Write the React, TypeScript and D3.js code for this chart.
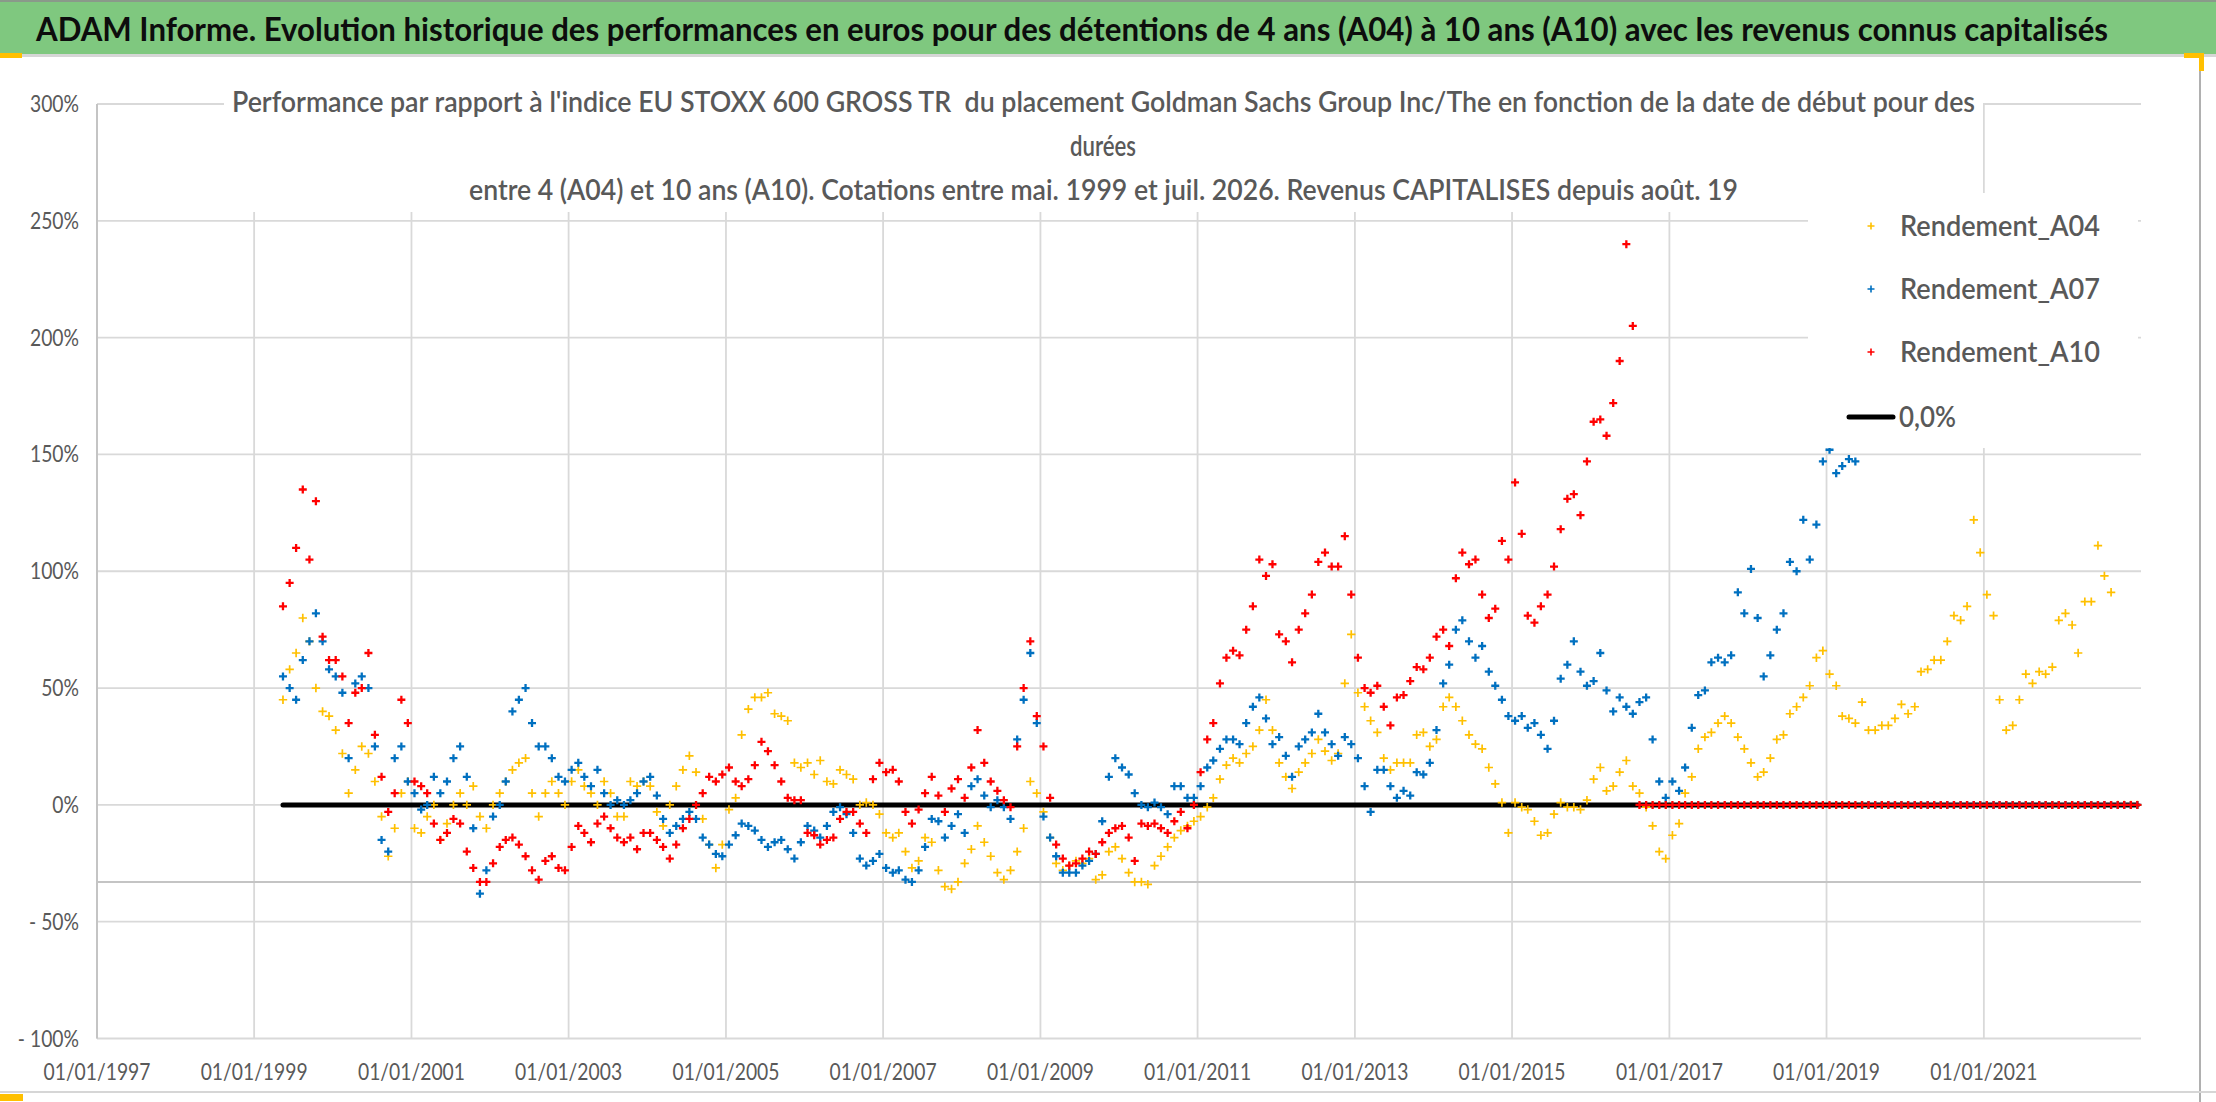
import React from 'react';
import * as d3 from 'd3';

const W = 2216;
const H = 1102;

// Monthly start dates, first one mid-May 1999
const START = new Date(1999, 4, 15);

const A04 = [
  45, 58, 65, 80, 70, 50, 40, 38, 32, 22,
  5, 15, 25, 22, 10, -5, -22, -10, 5, 10,
  -10, -12, -5, 0, -15, -8, 0, 5, 0, 8,
  -5, -10, 0, 5, 10, 15, 18, 20, 5, -5,
  5, 10, 5, 0, 10, 15, 8, 5, 0, 10,
  5, -5, -5, 10, 8, 10, 8, -3, -9, 0,
  8, 15, 21, 14, -6, -17, -27, -17, -2, 3,
  30, 41, 46, 46, 48, 39, 38, 36, 18, 16,
  18, 13, 19, 10, 9, 15, 13, 11, 0, 1,
  0, -4, -12, -14, -12, -20, -27, -24, -14, -16,
  -28, -35, -36, -33, -25, -19, -9, -16, -22, -29,
  -32, -28, -20, -10, 10, 5, -3, -14, -25, -28,
  -26, -24, -25, -23, -32, -30, -20, -18, -23, -29,
  -33, -33, -34, -26, -22, -18, -14, -11, -9, -7,
  -5, -1, 3, 11, 17, 20, 18, 22, 25, 32,
  45, 32, 18, 12, 7, 14, 18, 22, 28, 23,
  19, 22, 52, 73, 48, 42, 36, 31, 20, 15,
  18, 18, 18, 30, 31, 25, 28, 42, 46, 42,
  36, 30, 26, 24, 16, 9, 1, -12, 1, -1,
  -2, -7, -13, -12, -4, 1, -1, -1, -2, 2,
  11, 16, 6, 8, 14, 19, 8, 5, -1, -9,
  -20, -23, -13, -8, 5, 12, 24, 29, 31, 35,
  38, 35, 29, 24, 18, 12, 14, 20, 28, 30,
  39, 42, 46, 51, 63, 66, 56, 51, 38, 37,
  35, 44, 32, 32, 34, 34, 37, 43, 39, 42,
  57, 58, 62, 62, 70, 81, 79, 85, 122, 108,
  90, 81, 45, 32, 34, 45, 56, 52, 57, 56,
  59, 79, 82, 77, 65, 87, 87, 111, 98, 91,
  0, 0, 0, 0,
];

const A07 = [
  55, 50, 45, 62, 70, 82, 70, 58, 55, 48,
  20, 52, 55, 50, 25, -15, -20, 20, 25, 10,
  5, -2, 0, 12, 5, 10, 20, 25, 12, -10,
  -38, -28, -5, 0, 10, 40, 45, 50, 35, 25,
  25, 20, 12, 10, 15, 18, 12, 8, 15, 5,
  0, 2, 0, 2, 5, 10, 12, 4, -6, -12,
  -9, -6, -3, -6, -14, -17, -21, -22, -17, -13,
  -8, -9, -11, -15, -18, -16, -15, -19, -23, -16,
  -9, -11, -14, -9, -3, -1, -4, -12, -23, -26,
  -24, -21, -27, -29, -28, -32, -33, -28, -18, -6,
  -7, -14, -9, -4, -12, 8, 11, 4, -1, 2,
  -1, -6, 28, 45, 65, 35, -5, -14, -22, -29,
  -29, -29, -26, -24, -21, -7, 12, 20, 16, 13,
  5, 0, -1, 1, -1, -4, 8, 8, 3, 3,
  8, 16, 19, 24, 28, 28, 26, 35, 42, 46,
  37, 26, 29, 21, 12, 25, 28, 31, 39, 31,
  26, 21, 29, 26, 20, 8, -3, 15, 15, 8,
  3, 6, 4, 14, 13, 18, 32, 52, 60, 75,
  79, 70, 63, 68, 57, 51, 45, 38, 36, 38,
  33, 35, 30, 24, 36, 54, 60, 70, 57, 51,
  53, 65, 49, 40, 46, 42, 39, 44, 46, 28,
  10, 3, 10, 6, 16, 33, 47, 49, 61, 63,
  61, 64, 91, 82, 101, 80, 55, 64, 75, 82,
  104, 100, 122, 105, 120, 147, 152, 142, 145, 148,
  147,
  0, 0, 0, 0, 0, 0, 0, 0, 0, 0,
  0, 0, 0, 0, 0, 0, 0, 0, 0, 0,
  0, 0, 0, 0, 0, 0, 0, 0, 0, 0,
  0, 0, 0, 0, 0, 0, 0, 0, 0, 0,
  0, 0, 0,
];

const A10 = [
  85, 95, 110, 135, 105, 130, 72, 62, 62, 55,
  35, 48, 50, 65, 30, 12, -3, 5, 45, 35,
  10, 8, 5, -8, -15, -12, -6, -8, -20, -27,
  -33, -33, -25, -18, -15, -14, -17, -22, -28, -32,
  -24, -22, -27, -28, -18, -9, -12, -16, -8, -5,
  -10, -14, -16, -14, -19, -12, -12, -15, -18, -23,
  -17, -10, -6, 0, 5, 12, 10, 13, 16, 10,
  8, 11, 17, 27, 23, 17, 10, 3, 2, 2,
  -12, -13, -17, -15, -14, -6, -3, -3, -8, -12,
  11, 18, 14, 15, 10, -3, -8, -2, 5, 12,
  4, -3, 7, 11, 3, 16, 32, 18, 10, 6,
  2, -1, 25, 50, 70, 38, 25, 3, -17, -23,
  -26, -25, -23, -20, -21, -16, -12, -10, -9, -14,
  -24, -8, -9, -8, -10, -12, -7, -3, -10, 0,
  14, 28, 35, 52, 63, 66, 64, 75, 85, 105,
  98, 103, 73, 70, 61, 75, 82, 90, 104, 108,
  102, 102, 115, 90, 63, 50, 48, 51, 42, 34,
  46, 47, 53, 59, 58, 63, 72, 75, 68, 97,
  108, 103, 105, 90, 80, 84, 113, 105, 138, 116,
  81, 78, 85, 90, 102, 118, 131, 133, 124, 147,
  164, 165, 158, 172, 190, 240, 205,
  0, 0, 0, 0, 0, 0, 0, 0, 0, 0,
  0, 0, 0, 0, 0, 0, 0, 0, 0, 0,
  0, 0, 0, 0, 0, 0, 0, 0, 0, 0,
  0, 0, 0, 0, 0, 0, 0, 0, 0, 0,
  0, 0, 0, 0, 0, 0, 0, 0, 0, 0,
  0, 0, 0, 0, 0, 0, 0, 0, 0, 0,
  0, 0, 0, 0, 0, 0, 0, 0, 0, 0,
  0, 0, 0, 0, 0, 0, 0,
];

const ZERO_REF = 0;
const Y_TICKS = [-100, -50, 0, 50, 100, 150, 200, 250, 300];
const X_TICK_YEARS = [1997, 1999, 2001, 2003, 2005, 2007, 2009, 2011, 2013, 2015, 2017, 2019, 2021];
const AXIS_CROSS = -33;

const MAIN_TITLE =
  'ADAM Informe. Evolution historique des performances en euros pour des détentions de 4 ans (A04) à 10 ans (A10) avec les revenus connus capitalisés';
const SUB1 =
  "Performance par rapport à l'indice EU STOXX 600 GROSS TR  du placement Goldman Sachs Group Inc/The en fonction de la date de début pour des";
const SUB2 = 'durées';
const SUB3 =
  'entre 4 (A04) et 10 ans (A10). Cotations entre mai. 1999 et juil. 2026. Revenus CAPITALISES depuis août. 19';

const SERIES = [
  { name: 'Rendement_A04', values: A04, color: '#FFC000', half: 4.2, sw: 1.7 },
  { name: 'Rendement_A07', values: A07, color: '#0070C0', half: 4, sw: 2.3 },
  { name: 'Rendement_A10', values: A10, color: '#FF0000', half: 4, sw: 2.3 },
];

const FONT = 'Lato, "Open Sans", "Noto Sans", sans-serif';
const GRAY_TXT = '#595959';

function plusPath(pts: [number, number][], s: number) {
  return pts.map(([cx, cy]) => `M${cx - s},${cy}H${cx + s}M${cx},${cy - s}V${cy + s}`).join('');
}

export default function App() {
  const x = d3.scaleTime().domain([new Date(1997, 0, 1), new Date(2023, 0, 1)]).range([97, 2141]);
  const y = d3.scaleLinear().domain([-100, 300]).range([1038.5, 104]);
  const dateAt = (i: number) => d3.timeMonth.offset(START, i);
  const [x0, x1] = x.range();
  const yTop = y(300);
  const yBot = y(-100);

  const fmtY = (v: number) => (v < 0 ? `- ${-v}%` : `${v}%`);
  const zeroLine = d3.line<number>()
    .x((i) => x(dateAt(i)))
    .y(() => y(ZERO_REF))([0, A04.length - 1]);

  return (
    <svg width={W} height={H} style={{ position: 'absolute', left: 0, top: 0, background: '#fff' }} fontFamily={FONT}>
      <rect x={0} y={0} width={W} height={H} fill="#fff" />
      {/* green title bar */}
      <rect x={0} y={0} width={W} height={54} fill="#7fc87f" />
      <rect x={0} y={0} width={W} height={2} fill="#8a9a8a" />
      <rect x={0} y={54} width={W} height={3} fill="#d6d6d6" />
      <text x={36} y={41} fontSize={32} fontWeight={700} fill="#0d0d0d" textLength={2072} lengthAdjust="spacingAndGlyphs">
        {MAIN_TITLE}
      </text>

      {/* gridlines */}
      {Y_TICKS.map((v) => (
        <line key={'hy' + v} x1={x0} x2={x1} y1={y(v)} y2={y(v)} stroke="#d9d9d9" strokeWidth={1.8} />
      ))}
      {X_TICK_YEARS.map((yr) => (
        <line key={'vx' + yr} x1={x(new Date(yr, 0, 1))} x2={x(new Date(yr, 0, 1))} y1={yTop} y2={yBot} stroke="#d9d9d9" strokeWidth={1.8} />
      ))}
      {/* axis lines */}
      <line x1={x0} x2={x0} y1={yTop} y2={yBot} stroke="#c4c4c4" strokeWidth={2} />
      <line x1={x0} x2={x1} y1={y(AXIS_CROSS)} y2={y(AXIS_CROSS)} stroke="#c4c4c4" strokeWidth={2} />

      {/* y labels */}
      {Y_TICKS.map((v) => (
        <text key={'yl' + v} transform={`translate(79,${y(v) + 8}) scale(0.84,1)`} textAnchor="end" fontSize={23} fill={GRAY_TXT}>
          {fmtY(v)}
        </text>
      ))}
      {/* x labels */}
      {X_TICK_YEARS.map((yr) => (
        <text key={'xl' + yr} transform={`translate(${x(new Date(yr, 0, 1))},1080) scale(0.84,1)`} textAnchor="middle" fontSize={23} fill={GRAY_TXT}>
          {`01/01/${yr}`}
        </text>
      ))}

      {/* zero reference line */}
      <path d={zeroLine || ''} stroke="#000" strokeWidth={5} strokeLinecap="round" fill="none" />

      {/* series */}
      {SERIES.map((s) => (
        <path
          key={s.name}
          d={plusPath(s.values.map((v, i) => [x(dateAt(i)), y(v)] as [number, number]), s.half)}
          stroke={s.color}
          strokeWidth={s.sw}
          fill="none"
        />
      ))}

      {/* chart title box */}
      <rect x={224} y={62} width={1759} height={150} fill="#fff" />
      <text x={232} y={112} fontSize={28} fontWeight={600} fill={GRAY_TXT} textLength={1743} lengthAdjust="spacingAndGlyphs" style={{ whiteSpace: 'pre' }}>
        {SUB1}
      </text>
      <text x={1103} y={156} fontSize={28} fontWeight={600} fill={GRAY_TXT} textAnchor="middle" textLength={66} lengthAdjust="spacingAndGlyphs">
        {SUB2}
      </text>
      <text x={469} y={200} fontSize={28} fontWeight={600} fill={GRAY_TXT} textLength={1269} lengthAdjust="spacingAndGlyphs">
        {SUB3}
      </text>

      {/* legend */}
      <rect x={1808} y={193} width={330} height={255} fill="#fff" />
      {SERIES.map((s, i) => {
        const ly = 226 + i * 63;
        return (
          <g key={'lg' + s.name}>
            <path d={plusPath([[1871, ly]], 3.5)} stroke={s.color} strokeWidth={1.6} />
            <text x={1900} y={ly + 10} fontSize={28} fontWeight={600} fill={GRAY_TXT} textLength={200} lengthAdjust="spacingAndGlyphs">
              {s.name}
            </text>
          </g>
        );
      })}
      <line x1={1849} x2={1893} y1={417} y2={417} stroke="#000" strokeWidth={5} strokeLinecap="round" />
      <text x={1899} y={427} fontSize={28} fontWeight={600} fill={GRAY_TXT} textLength={57} lengthAdjust="spacingAndGlyphs">
        0,0%
      </text>

      {/* frame / selection marks */}
      <line x1={2200} x2={2200} y1={57} y2={H} stroke="#b0b0b0" strokeWidth={2} />
      <line x1={0} x2={W} y1={1092} y2={1092} stroke="#d6d6d6" strokeWidth={2} />
      <rect x={0} y={53} width={22} height={5} fill="#FFC000" />
      <rect x={2184} y={53} width={20} height={5} fill="#FFC000" />
      <rect x={2199} y={53} width={5} height={18} fill="#FFC000" />
      <rect x={0} y={1094} width={23} height={7} fill="#FFC000" />
    </svg>
  );
}
